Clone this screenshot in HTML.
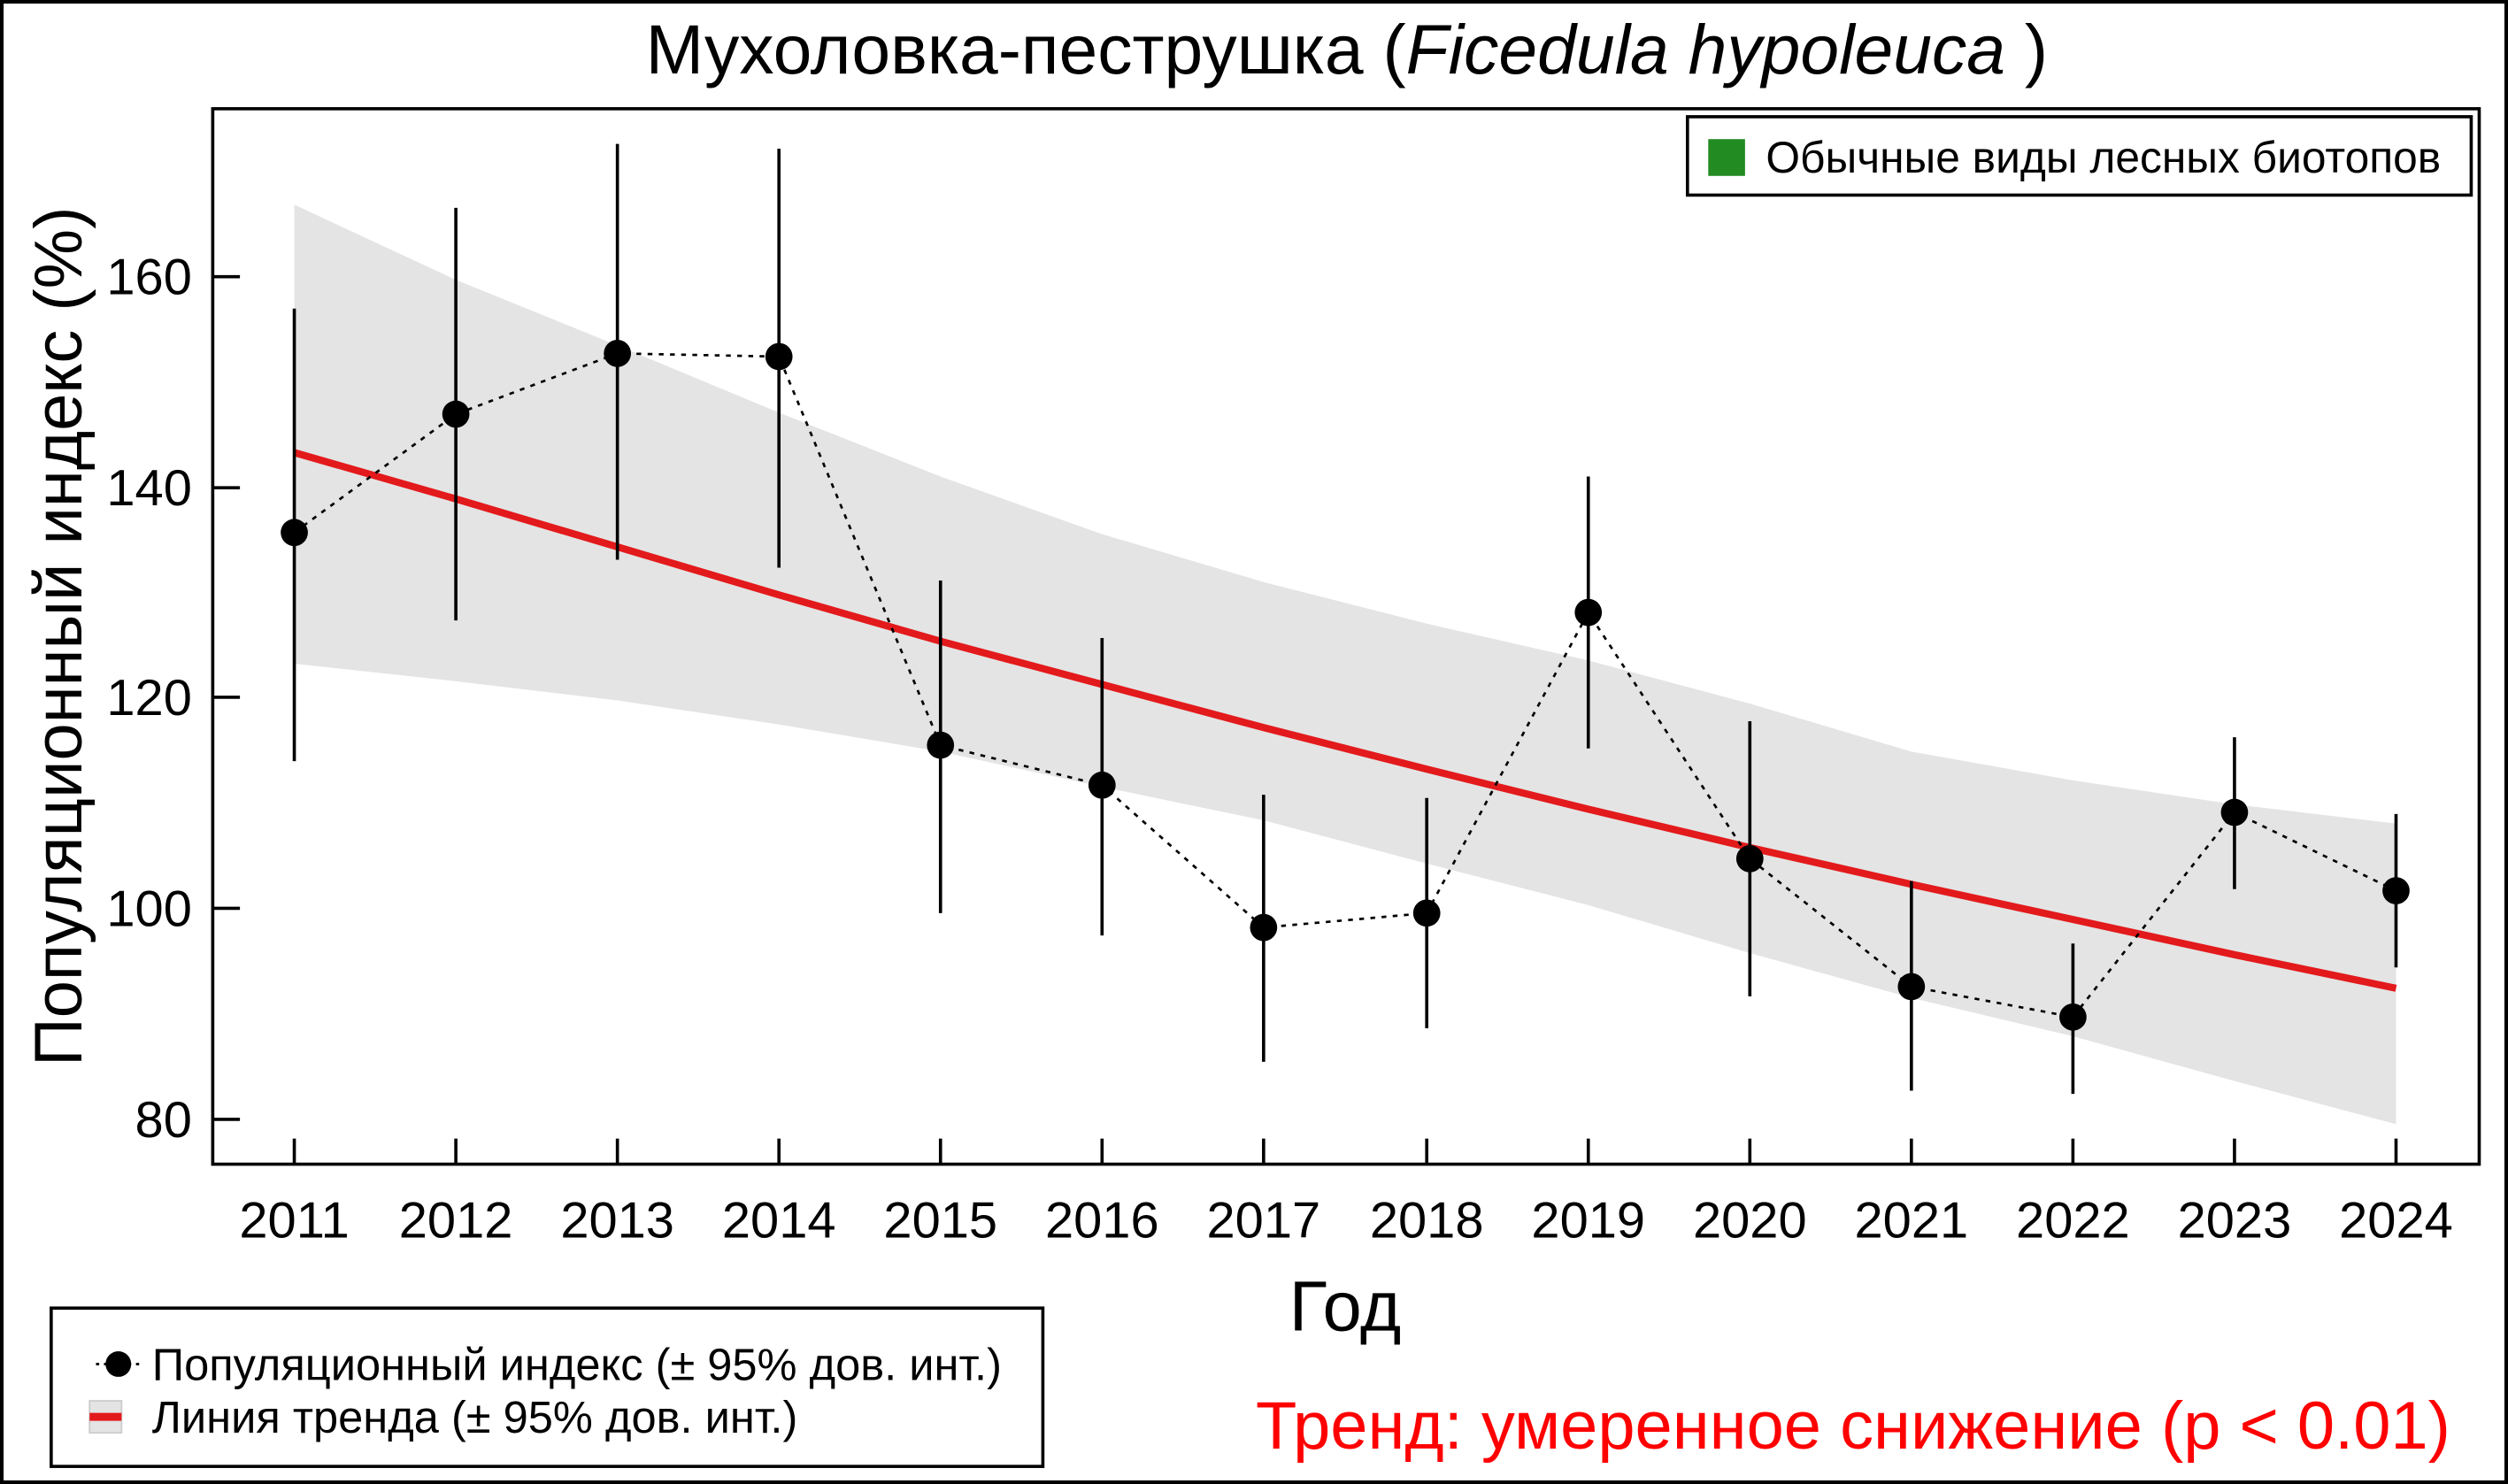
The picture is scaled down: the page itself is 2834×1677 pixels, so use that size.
<!DOCTYPE html>
<html><head><meta charset="utf-8"><style>
html,body{margin:0;padding:0;background:#fff;}
svg{display:block;}
text{font-family:"Liberation Sans",Arial,sans-serif;}
</style></head><body>
<svg width="2834" height="1677" viewBox="0 0 1568 928" preserveAspectRatio="none" xmlns="http://www.w3.org/2000/svg">
<rect x="0" y="0" width="1568" height="928" fill="#fff"/>
<rect x="1" y="1" width="1566" height="926" fill="none" stroke="#000" stroke-width="2.5"/>
<text x="842" y="46" font-size="43.5" text-anchor="middle">Мухоловка-пеструшка (<tspan font-style="italic">Ficedula hypoleuca</tspan> )</text>
<polygon fill="#e4e4e4" points="184,128 285,175 386,216 487,258 588,298 689,334 790,364 892,390 993,413 1094,440 1195,470 1296,488 1397,503 1498,515 1498,703 1397,676 1296,648 1195,624 1094,596 993,566 892,540 790,513 689,492 588,470 487,453 386,438 285,426 184,415"/>
<polyline fill="none" stroke="#e31a1c" stroke-width="4.5" points="184,283 285,312 386,342 487,372 588,401 689,428 790,455 892,481 993,506 1094,530 1195,553 1296,575 1397,597 1498,618"/>
<g stroke="#000" stroke-width="2">
<line x1="184" y1="193" x2="184" y2="476"/>
<line x1="285" y1="130" x2="285" y2="388"/>
<line x1="386" y1="90" x2="386" y2="350"/>
<line x1="487" y1="93" x2="487" y2="355"/>
<line x1="588" y1="363" x2="588" y2="571"/>
<line x1="689" y1="399" x2="689" y2="585"/>
<line x1="790" y1="497" x2="790" y2="664"/>
<line x1="892" y1="499" x2="892" y2="643"/>
<line x1="993" y1="298" x2="993" y2="468"/>
<line x1="1094" y1="451" x2="1094" y2="623"/>
<line x1="1195" y1="551" x2="1195" y2="682"/>
<line x1="1296" y1="590" x2="1296" y2="684"/>
<line x1="1397" y1="461" x2="1397" y2="556"/>
<line x1="1498" y1="509" x2="1498" y2="605"/>
</g>
<polyline fill="none" stroke="#000" stroke-width="1.5" stroke-dasharray="3,4" points="184,333 285,259 386,221 487,223 588,466 689,491 790,580 892,571 993,383 1094,537 1195,617 1296,636 1397,508 1498,557"/>
<g fill="#000">
<circle cx="184" cy="333" r="8.5"/><circle cx="285" cy="259" r="8.5"/><circle cx="386" cy="221" r="8.5"/><circle cx="487" cy="223" r="8.5"/>
<circle cx="588" cy="466" r="8.5"/><circle cx="689" cy="491" r="8.5"/><circle cx="790" cy="580" r="8.5"/><circle cx="892" cy="571" r="8.5"/>
<circle cx="993" cy="383" r="8.5"/><circle cx="1094" cy="537" r="8.5"/><circle cx="1195" cy="617" r="8.5"/><circle cx="1296" cy="636" r="8.5"/>
<circle cx="1397" cy="508" r="8.5"/><circle cx="1498" cy="557" r="8.5"/>
</g>
<rect x="133" y="68" width="1417" height="660" fill="none" stroke="#000" stroke-width="2"/>
<g stroke="#000" stroke-width="2">
<line x1="133" y1="173" x2="150" y2="173"/><line x1="133" y1="305" x2="150" y2="305"/><line x1="133" y1="436" x2="150" y2="436"/><line x1="133" y1="568" x2="150" y2="568"/><line x1="133" y1="700" x2="150" y2="700"/>
<line x1="184" y1="728" x2="184" y2="712"/><line x1="285" y1="728" x2="285" y2="712"/><line x1="386" y1="728" x2="386" y2="712"/><line x1="487" y1="728" x2="487" y2="712"/><line x1="588" y1="728" x2="588" y2="712"/><line x1="689" y1="728" x2="689" y2="712"/><line x1="790" y1="728" x2="790" y2="712"/><line x1="892" y1="728" x2="892" y2="712"/><line x1="993" y1="728" x2="993" y2="712"/><line x1="1094" y1="728" x2="1094" y2="712"/><line x1="1195" y1="728" x2="1195" y2="712"/><line x1="1296" y1="728" x2="1296" y2="712"/><line x1="1397" y1="728" x2="1397" y2="712"/><line x1="1498" y1="728" x2="1498" y2="712"/>
</g>
<g font-size="32" text-anchor="end">
<text x="120" y="184">160</text><text x="120" y="316">140</text><text x="120" y="447">120</text><text x="120" y="579">100</text><text x="120" y="711">80</text>
</g>
<g font-size="32" text-anchor="middle">
<text x="184" y="774">2011</text><text x="285" y="774">2012</text><text x="386" y="774">2013</text><text x="487" y="774">2014</text><text x="588" y="774">2015</text><text x="689" y="774">2016</text><text x="790" y="774">2017</text><text x="892" y="774">2018</text><text x="993" y="774">2019</text><text x="1094" y="774">2020</text><text x="1195" y="774">2021</text><text x="1296" y="774">2022</text><text x="1397" y="774">2023</text><text x="1498" y="774">2024</text>
</g>
<text x="841" y="832" font-size="44" text-anchor="middle">Год</text>
<text transform="translate(51,398) rotate(-90)" font-size="42" text-anchor="middle">Популяционный индекс (%)</text>
<rect x="1055" y="73" width="490" height="49" fill="#fff" stroke="#000" stroke-width="2"/>
<rect x="1068" y="87" width="23" height="23" fill="#228b22"/>
<text x="1104" y="108" font-size="27.5">Обычные виды лесных биотопов</text>
<rect x="32" y="818" width="620" height="99" fill="#fff" stroke="#000" stroke-width="2"/>
<line x1="60" y1="853" x2="88" y2="853" stroke="#000" stroke-width="1.5" stroke-dasharray="2,3"/>
<circle cx="74" cy="853" r="8" fill="#000"/>
<text x="95" y="863" font-size="28">Популяционный индекс (± 95% дов. инт.)</text>
<rect x="56" y="876" width="20" height="20" fill="#e4e4e4" stroke="#ccc" stroke-width="1"/>
<line x1="56" y1="886" x2="76" y2="886" stroke="#e31a1c" stroke-width="5"/>
<text x="95" y="896" font-size="28">Линия тренда (± 95% дов. инт.)</text>
<text x="1532" y="906" font-size="42" fill="#ff0000" text-anchor="end">Тренд: умеренное снижение (p &lt; 0.01)</text>
</svg>
</body></html>
